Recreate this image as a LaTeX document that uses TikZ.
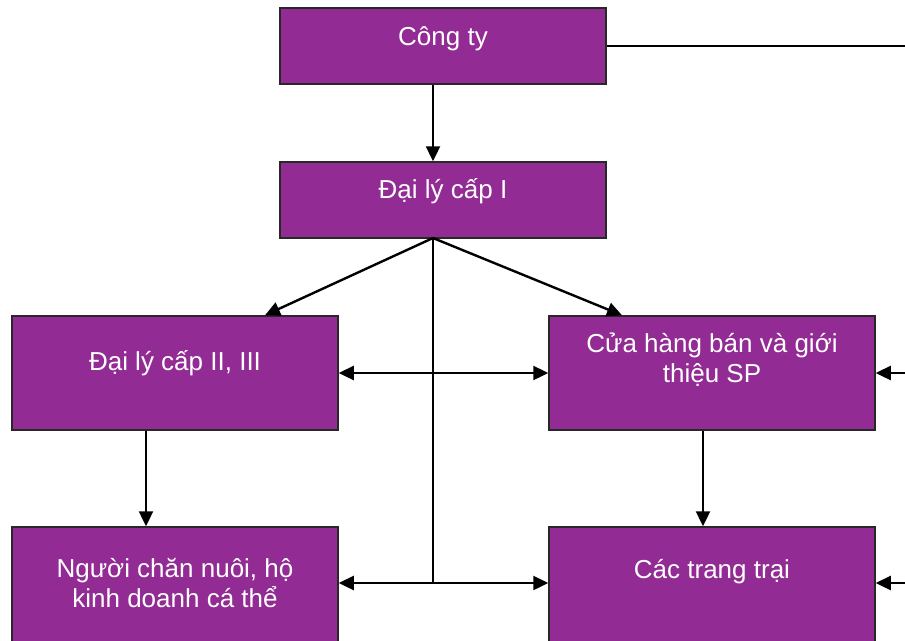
\documentclass[tikz,border=0pt]{standalone}
\usepackage{fontspec}
\setmainfont{Liberation Sans}
\usetikzlibrary{arrows.meta,calc}
\definecolor{boxfill}{RGB}{146,43,147}
\definecolor{boxline}{RGB}{40,40,40}
\begin{document}
\begin{tikzpicture}[x=1pt,y=-1pt,
  box/.style={draw=boxline,line width=1.5pt,fill=boxfill,rectangle,inner sep=0pt,minimum width=326pt},
  lbl/.style={anchor=base,inner sep=0pt,text=white,font=\fontsize{26}{30}\selectfont},
  conn/.style={line width=2.4pt,draw=black},
  arr/.style={conn,-{Triangle[length=15pt,width=14pt]}},
  darr/.style={conn,{Triangle[length=15pt,width=14pt]}-{Triangle[length=15pt,width=14pt]}}]
\useasboundingbox (0,0) rectangle (905,640);
\clip (0,0) rectangle (905,640);
\def\arraystretch{1}
% boxes
\node[box,minimum height=76pt] (ct) at (443,46) {};
\node[box,minimum height=76pt] (d1) at (443,200) {};
\node[box,minimum height=114pt] (d2) at (175,373) {};
\node[box,minimum height=114pt] (ch) at (712,373) {};
\node[box,minimum height=140pt] (nc) at (175,597) {};
\node[box,minimum height=140pt] (tt) at (712,597) {};
% labels
\node[lbl] (tct) at (443,45) {Công ty};
\node[lbl] (td1) at (443,198) {Đại lý cấp I};
\node[lbl] (td2) at (175,370) {Đại lý cấp II, III};
\node[lbl] (tch) at (712,352) {\setlength{\tabcolsep}{0pt}\begin{tabular}[t]{c}Cửa hàng bán và giới\\thiệu SP\end{tabular}};
\node[lbl] (tnc) at (175,577) {\setlength{\tabcolsep}{0pt}\begin{tabular}[t]{c}Người chăn nuôi, hộ\\kinh doanh cá thể\end{tabular}};
\node[lbl] (ttt) at (712,578) {Các trang trại};
% helper coordinates
\coordinate (hub) at (433,238);
\coordinate (mid1) at (433,373);
\coordinate (mid2) at (433,583);
\coordinate (r0) at (906,46);
\coordinate (r1) at (906,373);
\coordinate (r2) at (906,583);
% connectors
\draw[arr] ([xshift=-10pt]ct.south) -- ([xshift=-10pt]d1.north);
\draw[arr] (hub) -- ([xshift=90pt]d2.north);
\draw[arr] (hub) -- ([xshift=-90pt]ch.north);
\draw[conn] (hub) -- (mid2);
\draw[darr] (d2.east |- mid1) -- (ch.west |- mid1);
\draw[arr] (mid2) -- (nc.east |- mid2);
\draw[arr] (mid2) -- (tt.west |- mid2);
\draw[arr] ([xshift=-29pt]d2.south) -- ([xshift=-29pt]nc.north);
\draw[arr] ([xshift=-9pt]ch.south) -- ([xshift=-9pt]tt.north);
\draw[conn] (ct.east) -- (r0);
\draw[arr] (r1) -- (ch.east |- r1);
\draw[arr] (r2) -- (tt.east |- r2);
\end{tikzpicture}
\end{document}
